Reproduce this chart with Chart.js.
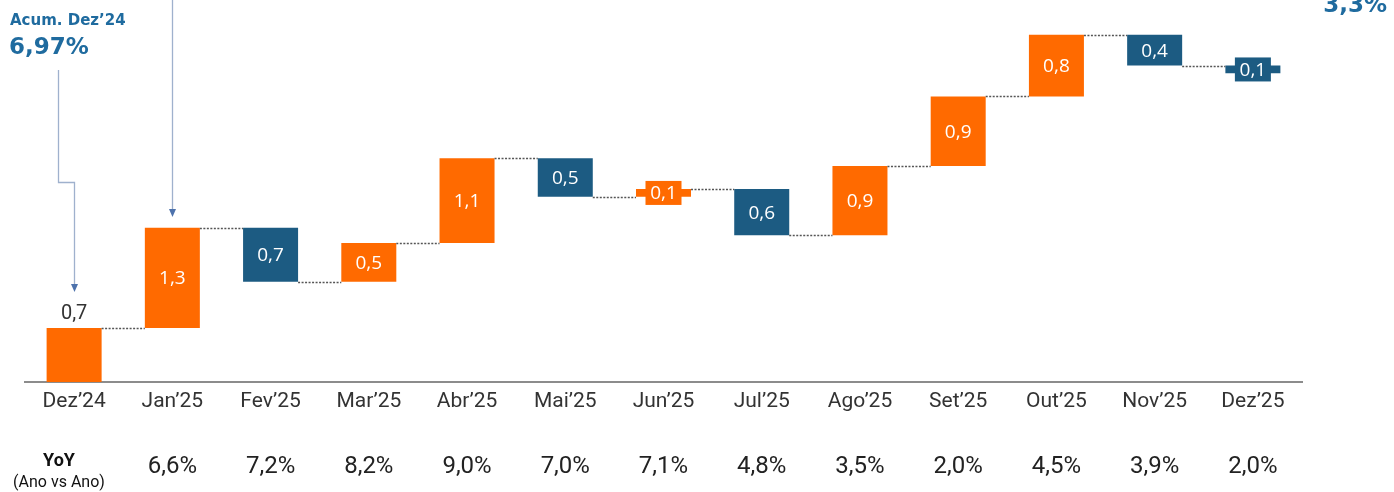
<!DOCTYPE html>
<html>
<head>
<meta charset="utf-8">
<script src="https://cdn.jsdelivr.net/npm/chart.js@4"></script>
<style>
  html, body { margin: 0; padding: 0; background: #fff; }
  #wrap { width: 1394px; height: 492px; }
</style>
</head>
<body>
<div id="wrap"><canvas id="chart-1" width="1394" height="492"></canvas></div>
<script>
// dados
const months = ["Dez’24", "Jan’25", "Fev’25", "Mar’25", "Abr’25", "Mai’25", "Jun’25",
  "Jul’25", "Ago’25", "Set’25", "Out’25", "Nov’25", "Dez’25"];
const monthly = [0.7, 1.3, -0.7, 0.5, 1.1, -0.5, 0.1, -0.6, 0.9, 0.9, 0.8, -0.4, -0.1];
const yoy = ["", "6,6%", "7,2%", "8,2%", "9,0%", "7,0%", "7,1%", "4,8%", "3,5%", "2,0%", "4,5%", "3,9%", "2,0%"];
const accStart = "6,97%";
const accEnd = "3,3%";

const ORANGE = "#FF6A00";
const BLUE = "#1C5B82";
const ACC_BLUE = "#1F6B9F";

// monta as barras flutuantes (cascata)
const levels = [];
const floats = [];
let run = 0;
monthly.forEach((v) => {
  floats.push([run, run + v]);
  run += v;
  levels.push(run);
});
const colors = monthly.map((v) => (v >= 0 ? ORANGE : BLUE));
const fmt = (v) => Math.abs(v).toFixed(1).replace(".", ",");

const waterfallPlugin = {
  id: "waterfall",
  afterDatasetsDraw(chart) {
    const ctx = chart.ctx;
    const y = chart.scales.y;
    const bars = chart.getDatasetMeta(0).data;

    // linhas pontilhadas entre barras
    ctx.save();
    ctx.strokeStyle = "#555";
    ctx.lineWidth = 1.5;
    ctx.setLineDash([2, 1.5]);
    for (let i = 0; i < bars.length - 1; i++) {
      const py = Math.round(y.getPixelForValue(levels[i])) + 0.5;
      ctx.beginPath();
      ctx.moveTo(bars[i].x + bars[i].width / 2, py);
      ctx.lineTo(bars[i + 1].x - bars[i + 1].width / 2, py);
      ctx.stroke();
    }
    ctx.restore();

    // rótulos
    ctx.save();
    ctx.textAlign = "center";
    ctx.textBaseline = "middle";
    bars.forEach((bar, i) => {
      const top = Math.min(bar.y, bar.base);
      const bottom = Math.max(bar.y, bar.base);
      const mid = (top + bottom) / 2;
      if (i === 0) {
        ctx.fillStyle = "#333";
        ctx.font = "20px Roboto";
        ctx.fillText(fmt(monthly[i]), bar.x, top - 14);
        return;
      }
      if (Math.abs(monthly[i]) < 0.2) {
        ctx.fillStyle = colors[i];
        ctx.fillRect(bar.x - 18, mid - 12, 36, 24);
      }
      ctx.fillStyle = "#fff";
      ctx.font = "19px 'Open Sans'";
      ctx.fillText(fmt(monthly[i]), bar.x, mid + 1);
    });
    ctx.restore();
  },
  afterDraw(chart) {
    const ctx = chart.ctx;
    const x = chart.scales.x;

    // linha YoY
    ctx.save();
    ctx.fillStyle = "#222";
    ctx.textAlign = "center";
    ctx.textBaseline = "middle";
    ctx.font = "24px Roboto";
    yoy.forEach((t, i) => { if (t) ctx.fillText(t, x.getPixelForValue(i), 467); });
    ctx.font = "bold 18px Roboto";
    ctx.fillStyle = "#111";
    ctx.fillText("YoY", 59, 461);
    ctx.font = "16px Roboto";
    ctx.fillText("(Ano vs Ano)", 59, 483);
    ctx.restore();

    // anotações acumulado
    ctx.save();
    ctx.fillStyle = ACC_BLUE;
    ctx.textAlign = "left";
    ctx.textBaseline = "alphabetic";
    ctx.font = "bold 15px 'DejaVu Sans'";
    ctx.fillText("Acum. Dez’24", 10, 25);
    ctx.font = "bold 23px 'DejaVu Sans'";
    ctx.fillText(accStart, 9, 54);
    ctx.textAlign = "right";
    ctx.fillText(accEnd, 1387, 12);

    const x0 = Math.round(x.getPixelForValue(0)) + 0.5;
    const x1 = Math.round(x.getPixelForValue(1)) + 0.5;
    ctx.strokeStyle = "#9FB1CD";
    ctx.lineWidth = 1.3;
    ctx.beginPath();
    ctx.moveTo(58.5, 70);
    ctx.lineTo(58.5, 182.5);
    ctx.lineTo(x0, 182.5);
    ctx.lineTo(x0, 288);
    ctx.moveTo(x1, 0);
    ctx.lineTo(x1, 212);
    ctx.stroke();
    ctx.fillStyle = "#4D72AC";
    [[x0, 292], [x1, 217]].forEach(([ax, ay]) => {
      ctx.beginPath();
      ctx.moveTo(ax - 3.5, ay - 8);
      ctx.lineTo(ax + 3.5, ay - 8);
      ctx.lineTo(ax, ay);
      ctx.closePath();
      ctx.fill();
    });
    ctx.restore();
  }
};

const ctx1 = document.getElementById("chart-1").getContext("2d");
const myChart = new Chart(ctx1, {
  type: "bar",
  data: {
    labels: months,
    datasets: [
      {
        data: floats,
        backgroundColor: colors,
        borderWidth: 0,
        borderSkipped: false,
        barPercentage: 0.56,
        categoryPercentage: 1,
      },
    ],
  },
  options: {
    responsive: false,
    animation: false,
    layout: { padding: { left: 25, right: 92, top: 0, bottom: 0 } },
    plugins: { legend: { display: false }, tooltip: { enabled: false } },
    scales: {
      x: {
        grid: { display: false, drawTicks: false },
        border: { display: true, color: "#8c8c8c", width: 2 },
        ticks: { color: "#333", font: { family: "Roboto", size: 21 }, padding: 7, maxRotation: 0, autoSkip: false },
        afterFit(axis) { axis.height = 110; },
      },
      y: {
        display: false,
        min: 0,
        max: 4.95,
      },
    },
  },
  plugins: [waterfallPlugin],
});
</script>
</body>
</html>
